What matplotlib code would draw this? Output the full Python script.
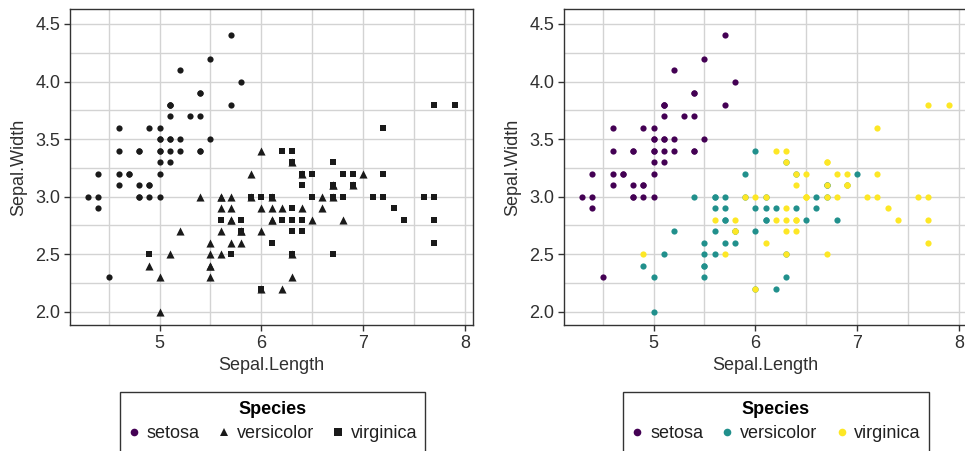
import matplotlib
matplotlib.use("Agg")
import matplotlib.pyplot as plt
from matplotlib.lines import Line2D
from matplotlib.patches import Rectangle
from matplotlib.ticker import MultipleLocator

plt.rcParams["font.family"] = ["Liberation Sans", "DejaVu Sans"]

# iris sepal measurements, by species
setosa_len = [5.1, 4.9, 4.7, 4.6, 5.0, 5.4, 4.6, 5.0, 4.4, 4.9, 5.4, 4.8, 4.8, 4.3, 5.8, 5.7, 5.4,
              5.1, 5.7, 5.1, 5.4, 5.1, 4.6, 5.1, 4.8, 5.0, 5.0, 5.2, 5.2, 4.7, 4.8, 5.4, 5.2, 5.5,
              4.9, 5.0, 5.5, 4.9, 4.4, 5.1, 5.0, 4.5, 4.4, 5.0, 5.1, 4.8, 5.1, 4.6, 5.3, 5.0]
setosa_wid = [3.5, 3.0, 3.2, 3.1, 3.6, 3.9, 3.4, 3.4, 2.9, 3.1, 3.7, 3.4, 3.0, 3.0, 4.0, 4.4, 3.9,
              3.5, 3.8, 3.8, 3.4, 3.7, 3.6, 3.3, 3.4, 3.0, 3.4, 3.5, 3.4, 3.2, 3.1, 3.4, 4.1, 4.2,
              3.1, 3.2, 3.5, 3.6, 3.0, 3.4, 3.5, 2.3, 3.2, 3.5, 3.8, 3.0, 3.8, 3.2, 3.7, 3.3]
versicolor_len = [7.0, 6.4, 6.9, 5.5, 6.5, 5.7, 6.3, 4.9, 6.6, 5.2, 5.0, 5.9, 6.0, 6.1, 5.6, 6.7,
                  5.6, 5.8, 6.2, 5.6, 5.9, 6.1, 6.3, 6.1, 6.4, 6.6, 6.8, 6.7, 6.0, 5.7, 5.5, 5.5,
                  5.8, 6.0, 5.4, 6.0, 6.7, 6.3, 5.6, 5.5, 5.5, 6.1, 5.8, 5.0, 5.6, 5.7, 5.7, 6.2,
                  5.1, 5.7]
versicolor_wid = [3.2, 3.2, 3.1, 2.3, 2.8, 2.8, 3.3, 2.4, 2.9, 2.7, 2.0, 3.0, 2.2, 2.9, 2.9, 3.1,
                  3.0, 2.7, 2.2, 2.5, 3.2, 2.8, 2.5, 2.8, 2.9, 3.0, 2.8, 3.0, 2.9, 2.6, 2.4, 2.4,
                  2.7, 2.7, 3.0, 3.4, 3.1, 2.3, 3.0, 2.5, 2.6, 3.0, 2.6, 2.3, 2.7, 3.0, 2.9, 2.9,
                  2.5, 2.8]
virginica_len = [6.3, 5.8, 7.1, 6.3, 6.5, 7.6, 4.9, 7.3, 6.7, 7.2, 6.5, 6.4, 6.8, 5.7, 5.8, 6.4,
                 6.5, 7.7, 7.7, 6.0, 6.9, 5.6, 7.7, 6.3, 6.7, 7.2, 6.2, 6.1, 6.4, 7.2, 7.4, 7.9,
                 6.4, 6.3, 6.1, 7.7, 6.3, 6.4, 6.0, 6.9, 6.7, 6.9, 5.8, 6.8, 6.7, 6.7, 6.3, 6.5,
                 6.2, 5.9]
virginica_wid = [3.3, 2.7, 3.0, 2.9, 3.0, 3.0, 2.5, 2.9, 2.5, 3.6, 3.2, 2.7, 3.0, 2.5, 2.8, 3.2,
                 3.0, 3.8, 2.6, 2.2, 3.2, 2.8, 2.8, 2.7, 3.3, 3.2, 2.8, 3.0, 2.8, 3.0, 2.8, 3.8,
                 2.8, 2.8, 2.6, 3.0, 3.4, 3.1, 3.0, 3.1, 3.1, 3.1, 2.7, 3.2, 3.3, 3.0, 2.5, 3.0,
                 3.4, 3.0]

species = ["setosa", "versicolor", "virginica"]
lengths = [setosa_len, versicolor_len, virginica_len]
widths = [setosa_wid, versicolor_wid, virginica_wid]
shapes = ["o", "^", "s"]
shape_sizes = [20, 34, 25]
viridis3 = ["#440154", "#21908C", "#FDE725"]

W, H = 965, 451
FS = 13
fig = plt.figure(figsize=(W / 100, H / 100), dpi=100)


def px_axes(x0, y0, x1, y1):
    return fig.add_axes([x0 / W, 1 - y1 / H, (x1 - x0) / W, (y1 - y0) / H])


def style_axes(ax):
    ax.set_xlim(4.12, 8.08)
    ax.set_ylim(1.885, 4.63)
    ax.xaxis.set_major_locator(MultipleLocator(1))
    ax.xaxis.set_minor_locator(MultipleLocator(0.5))
    ax.yaxis.set_major_locator(MultipleLocator(0.5))
    ax.yaxis.set_minor_locator(MultipleLocator(0.25))
    ax.yaxis.set_major_formatter(lambda v, p: f"{v:.1f}")
    ax.grid(True, which="both", color="#d3d3d3", linewidth=1.0)
    ax.set_axisbelow(True)
    for sp in ax.spines.values():
        sp.set_color("#333333")
        sp.set_linewidth(1.0)
    ax.tick_params(which="major", length=4, width=1, color="#333333",
                   labelsize=FS, labelcolor="#303030", pad=3)
    ax.tick_params(which="minor", length=0)
    ax.set_xlabel("Sepal.Length", fontsize=FS, color="#303030", labelpad=4)
    ax.set_ylabel("Sepal.Width", fontsize=FS, color="#303030", labelpad=6)


def legend_box(x0, x1, handles):
    fig.patches.append(Rectangle((x0 / W, -0.1), (x1 - x0) / W, 0.1 + (H - 392) / H,
                                 transform=fig.transFigure, fill=False,
                                 edgecolor="#333333", linewidth=1.0))
    leg = fig.legend(handles=handles, loc="upper center",
                     bbox_to_anchor=((x0 + x1) / 2 / W, 1 - 388 / H),
                     ncol=3, frameon=False, title="Species", fontsize=FS,
                     title_fontproperties={"weight": "bold", "size": FS},
                     handlelength=0.7, handletextpad=0.35, columnspacing=1.0,
                     borderpad=0.2, labelspacing=0.4)
    for t in leg.get_texts():
        t.set_color("#202020")


# left: species by marker shape
ax1 = px_axes(70, 9, 473, 325)
style_axes(ax1)
for x, y, m, s in zip(lengths, widths, shapes, shape_sizes):
    ax1.scatter(x, y, marker=m, s=s, color="#1a1a1a", linewidths=0, zorder=3)
legend_box(120, 425, [
    Line2D([], [], linestyle="", marker=m, markersize=5.5, color=c,
           markeredgewidth=0, label=s)
    for s, m, c in zip(species, shapes, ["#440154", "#1a1a1a", "#1a1a1a"])
])

# right: species by viridis colour
ax2 = px_axes(564, 9, 967, 325)
style_axes(ax2)
for x, y, c in zip(lengths, widths, viridis3):
    ax2.scatter(x, y, marker="o", s=20, color=c, linewidths=0, zorder=3)
legend_box(623, 929, [
    Line2D([], [], linestyle="", marker="o", markersize=5.5, color=c,
           markeredgewidth=0, label=s)
    for s, c in zip(species, viridis3)
])

fig.savefig("out.png", dpi=100)
